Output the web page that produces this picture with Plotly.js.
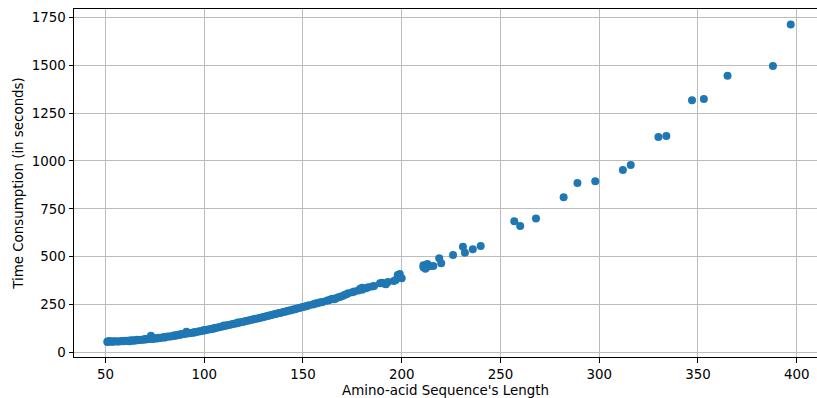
<!DOCTYPE html>
<html>
<head>
<meta charset="utf-8">
<script src="https://cdn.plot.ly/plotly-3.0.1.min.js"></script>
<style>html,body{margin:0;padding:0;background:#fff;}#chart{width:817px;height:398px;}</style>
</head>
<body>
<div id="chart"></div>
<script>
// Sequence lengths (x) and time consumption in seconds (y)
const seqLength = [
  51,51,52,52,53,54,54,55,56,57,58,59,60,61,62,62,63,64,64,65,66,66,67,68,69,70,70,71,72,73,73,74,75,76,76,77,78,79,80,80,
  81,82,83,84,85,85,86,87,88,88,89,90,91,91,92,93,94,95,95,96,97,98,99,100,100,101,102,103,104,105,105,106,107,108,109,110,110,
  111,112,113,114,115,116,117,117,118,119,120,121,122,123,124,125,126,127,128,129,130,131,132,133,134,135,136,137,138,139,140,
  141,142,143,144,145,146,147,148,149,150,151,152,153,155,156,157,158,159,160,162,163,164,165,166,167,168,169,170,171,172,173,
  175,176,178,179,180,180,182,183,185,186,189,190,191,192,193,196,197,198,199,200,
  211,211,212,213,214,216,219,220,226,231,232,236,240,
  257,260,268,282,289,298,312,316,330,334,347,353,365,388,397
];
const timeSec = [
  55,58,57,60,56,58,57,59,57,58,60,59,61,60,62,59,63,61,64,62,64,66,65,67,66,68,70,69,71,88,72,71,74,75,73,77,76,79,80,78,
  82,83,84,86,88,90,89,92,93,95,96,97,108,99,100,102,103,106,104,107,109,111,113,115,118,117,120,122,124,127,125,129,131,133,136,138,141,
  140,143,145,147,150,152,154,156,157,159,161,164,166,168,171,173,176,178,180,183,185,188,190,193,196,198,201,203,206,208,211,
  213,216,219,221,224,226,230,232,235,238,240,243,246,251,254,257,260,262,264,270,273,276,280,278,285,288,291,295,300,304,309,
  314,318,323,333,327,338,336,340,344,347,362,364,360,356,368,373,378,405,410,387,
  445,455,437,462,450,452,492,466,509,552,521,539,556,
  685,660,700,810,885,894,953,979,1125,1130,1317,1323,1444,1496,1712
];
const xTicks = [50,100,150,200,250,300,350,400];
const yTicks = [0,250,500,750,1000,1250,1500,1750];

const font = {family: '"DejaVu Sans", sans-serif', size: 13.4, color: '#000'};

Plotly.newPlot('chart', [{
  type: 'scatter',
  mode: 'markers',
  x: seqLength,
  y: timeSec,
  marker: {color: '#1f77b4', size: 8, line: {width: 0}},
  hoverinfo: 'none'
}], {
  width: 817, height: 398,
  margin: {l: 74, r: 0, t: 9, b: 41, pad: 0},
  paper_bgcolor: '#fff', plot_bgcolor: '#fff',
  font: font,
  showlegend: false,
  xaxis: {
    range: [34.05, 410.3],
    tickvals: xTicks, ticktext: xTicks.map(String),
    ticks: 'outside', ticklen: 4.5, tickwidth: 1, tickcolor: '#000',
    showgrid: true, gridcolor: '#bcbcbc', gridwidth: 1,
    showline: true, linecolor: '#000', linewidth: 1, mirror: true,
    zeroline: false,
    tickfont: font,
    title: {text: "Amino-acid Sequence's Length", font: font, standoff: 6},
    automargin: false
  },
  yaxis: {
    range: [-23.5, 1793],
    tickvals: yTicks, ticktext: yTicks.map(String),
    ticks: 'outside', ticklen: 4.5, tickwidth: 1, tickcolor: '#000',
    showgrid: true, gridcolor: '#bcbcbc', gridwidth: 1,
    showline: true, linecolor: '#000', linewidth: 1, mirror: false,
    zeroline: false,
    tickfont: font,
    title: {text: 'Time Consumption (in seconds)', font: font, standoff: 5},
    automargin: false
  }
}, {staticPlot: true, displayModeBar: false});
</script>
</body>
</html>
